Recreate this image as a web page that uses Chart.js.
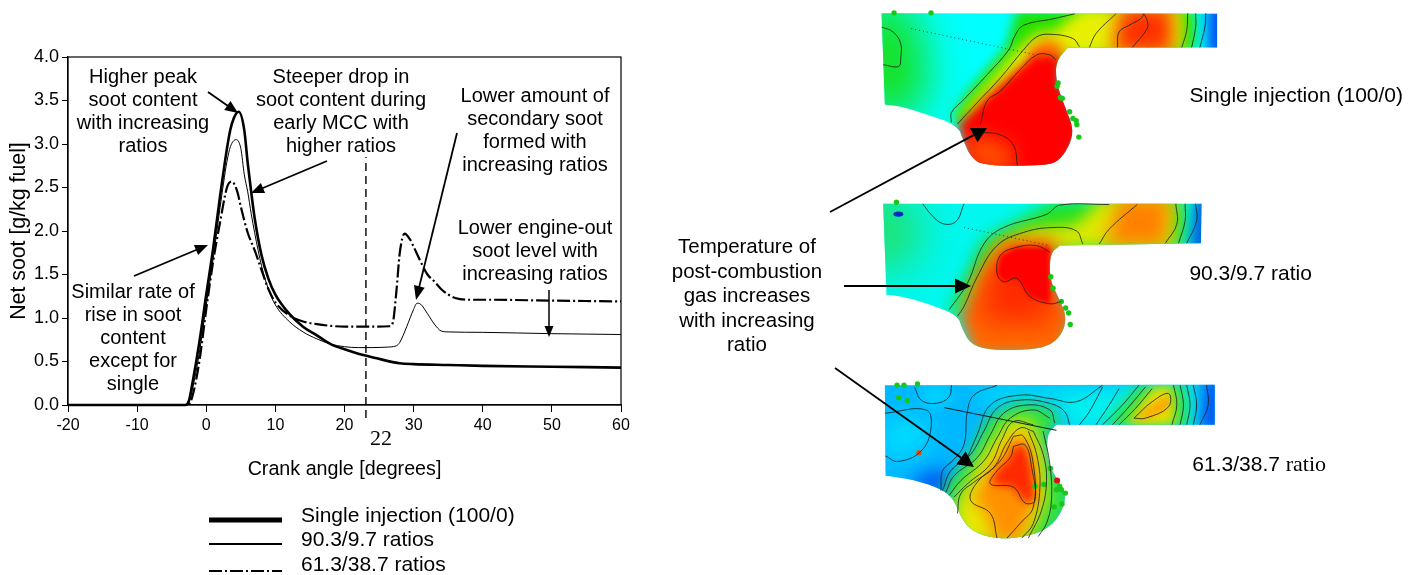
<!DOCTYPE html>
<html>
<head>
<meta charset="utf-8">
<title>Net soot and post-combustion gas temperature</title>
<script src="https://cdn.jsdelivr.net/npm/chart.js@4"></script>
<style>
    html, body { margin: 0; padding: 0; background: #fff; }
    #page { position: relative; width: 1424px; height: 575px; overflow: hidden; }
    canvas { position: absolute; top: 0; }
    #sootChart { left: 0; }
    #fieldChart { left: 640px; }
</style>
</head>
<body>
<div id="page">
    <canvas id="sootChart" width="640" height="575"></canvas>
    <canvas id="fieldChart" width="784" height="575"></canvas>
</div>
<script>
// soot curves
const crankSingle = [-20, -3, -2.5, -2, -1, 0, 1, 2, 3, 3.5, 4, 4.7, 5.5, 6, 6.5, 7, 8, 9, 10, 12, 14, 16, 18, 20, 22, 24, 26, 28, 30, 35, 40, 50, 60];
const sootSingle = [0, 0, 0.05, 0.25, 0.72, 1.27, 1.8, 2.4, 2.95, 3.17, 3.3, 3.37, 3.16, 2.78, 2.45, 2.15, 1.72, 1.45, 1.27, 1.05, 0.9, 0.8, 0.7, 0.64, 0.59, 0.55, 0.51, 0.48, 0.47, 0.46, 0.45, 0.44, 0.43];
const crankMid = [-20, -3, -2.5, -2, -1, 0, 1, 2, 3, 3.5, 4.3, 5, 5.5, 6, 6.5, 7, 8, 9, 10, 12, 14, 16, 18, 20, 22, 24, 26, 27.5, 28, 29, 30, 30.5, 31, 32, 33, 34, 35, 40, 50, 60];
const sootMid = [0, 0, 0.03, 0.18, 0.6, 1.15, 1.68, 2.27, 2.8, 2.97, 3.05, 2.95, 2.65, 2.45, 2.2, 1.98, 1.6, 1.33, 1.15, 0.96, 0.84, 0.76, 0.7, 0.67, 0.66, 0.66, 0.665, 0.68, 0.72, 0.9, 1.1, 1.17, 1.16, 1.05, 0.93, 0.85, 0.84, 0.835, 0.82, 0.81];
const crankSplit = [-20, -3, -2.5, -2, -1, 0, 1, 2, 3, 3.7, 4.5, 5, 6, 7, 8, 9, 10, 12, 14, 16, 18, 20, 24, 26.5, 27, 27.5, 28, 28.7, 29.5, 30, 31, 32, 33, 34, 35, 36, 38, 40, 50, 60];
const sootSplit = [0, 0, 0.01, 0.1, 0.5, 1.1, 1.65, 2.1, 2.5, 2.57, 2.45, 2.28, 1.98, 1.78, 1.55, 1.33, 1.18, 1.03, 0.96, 0.93, 0.91, 0.9, 0.9, 0.905, 0.95, 1.3, 1.75, 1.97, 1.9, 1.82, 1.65, 1.5, 1.42, 1.33, 1.27, 1.23, 1.21, 1.21, 1.2, 1.19];
const markerCrank = [23.1, 23.1];
const markerSoot = [-0.15, 2.85];

const crankTicks = [-20, -10, 0, 10, 20, 30, 40, 50, 60];
const sootTicks = [0, 0.5, 1, 1.5, 2, 2.5, 3, 3.5, 4];

const legendLabels = ['Single injection (100/0)', '90.3/9.7 ratios', '61.3/38.7 ratios'];

const sansFont = '"Liberation Sans", Arial, sans-serif';
const splitDash = [13, 3, 2, 3];

function zipXY(xs, ys) {
    return xs.map((x, i) => ({ x: x, y: ys[i] }));
}

function drawArrow(ctx, x1, y1, x2, y2, width, headLength, headWidth) {
    const angle = Math.atan2(y2 - y1, x2 - x1);
    ctx.save();
    ctx.strokeStyle = '#000';
    ctx.fillStyle = '#000';
    ctx.lineWidth = width;
    ctx.beginPath();
    ctx.moveTo(x1, y1);
    ctx.lineTo(x2 - Math.cos(angle) * headLength * 0.8, y2 - Math.sin(angle) * headLength * 0.8);
    ctx.stroke();
    ctx.translate(x2, y2);
    ctx.rotate(angle);
    ctx.beginPath();
    ctx.moveTo(0, 0);
    ctx.lineTo(-headLength, headWidth / 2);
    ctx.lineTo(-headLength, -headWidth / 2);
    ctx.closePath();
    ctx.fill();
    ctx.restore();
}

function drawLines(ctx, lines, cx, firstY, step) {
    ctx.fillStyle = '#000';
    ctx.textAlign = 'center';
    ctx.textBaseline = 'middle';
    lines.forEach((line, i) => ctx.fillText(line, cx, firstY + i * step));
}

const sootNotes = {
    id: 'sootNotes',
    afterDatasetsDraw(chart) {
        const ctx = chart.ctx;
        const area = chart.chartArea;
        ctx.save();

        // plot frame
        ctx.strokeStyle = '#000';
        ctx.lineWidth = 1.2;
        ctx.strokeRect(area.left, area.top, area.right - area.left, area.bottom - area.top);

        ctx.font = '20px ' + sansFont;
        drawLines(ctx, ['Higher peak', 'soot content', 'with increasing', 'ratios'], 143, 77, 23);
        drawLines(ctx, ['Steeper drop in', 'soot content during', 'early MCC with', 'higher ratios'], 341, 77, 23);
        drawLines(ctx, ['Lower amount of', 'secondary soot', 'formed with', 'increasing ratios'], 535, 96, 23);
        drawLines(ctx, ['Lower engine-out', 'soot level with', 'increasing ratios'], 535, 228, 23);
        drawLines(ctx, ['Similar rate of', 'rise in soot', 'content', 'except for', 'single'], 133, 292, 23.2);

        drawArrow(ctx, 208, 92, 238, 113, 1.8, 13, 11);
        drawArrow(ctx, 327, 161, 251, 193, 1.8, 13, 11);
        drawArrow(ctx, 134, 276, 208, 245, 1.8, 13, 11);
        drawArrow(ctx, 457, 133, 416, 300, 1.8, 14, 11);
        drawArrow(ctx, 549, 290, 549, 337, 1.5, 11, 9);

        ctx.font = '22px "Liberation Serif", serif';
        ctx.fillStyle = '#000';
        ctx.textAlign = 'center';
        ctx.fillText('22', 381, 439);

        // legend sits under the axis, as three hand placed rows
        const rows = [
            { y: 520, labelY: 516, width: 5, dash: [] },
            { y: 544, labelY: 540, width: 2, dash: [] },
            { y: 571, labelY: 565, width: 2, dash: splitDash }
        ];
        rows.forEach((row, i) => {
            ctx.lineWidth = row.width;
            ctx.setLineDash(row.dash);
            ctx.beginPath();
            ctx.moveTo(209, row.y);
            ctx.lineTo(282, row.y);
            ctx.stroke();
            ctx.setLineDash([]);
            ctx.font = '21px ' + sansFont;
            ctx.textAlign = 'left';
            ctx.textBaseline = 'middle';
            ctx.fillText(legendLabels[i], 301, row.labelY);
        });
        ctx.restore();
    }
};

new Chart(document.getElementById('sootChart'), {
    type: 'line',
    data: {
        datasets: [
            { label: legendLabels[0], data: zipXY(crankSingle, sootSingle), borderColor: '#000', borderWidth: 2.6, pointRadius: 0, cubicInterpolationMode: 'monotone', clip: false },
            { label: legendLabels[1], data: zipXY(crankMid, sootMid), borderColor: '#000', borderWidth: 1, pointRadius: 0, cubicInterpolationMode: 'monotone', clip: false },
            { label: legendLabels[2], data: zipXY(crankSplit, sootSplit), borderColor: '#000', borderWidth: 2.2, borderDash: splitDash, pointRadius: 0, cubicInterpolationMode: 'monotone', clip: false },
            { label: 'marker', data: zipXY(markerCrank, markerSoot), borderColor: '#000', borderWidth: 1.4, borderDash: [8, 5], pointRadius: 0, clip: false }
        ]
    },
    options: {
        responsive: false,
        animation: false,
        layout: { padding: { left: 0, top: 57, right: 19, bottom: 0 } },
        plugins: { legend: { display: false }, tooltip: { enabled: false } },
        scales: {
            x: {
                type: 'linear',
                min: -20,
                max: 60,
                afterBuildTicks: scale => { scale.ticks = crankTicks.map(v => ({ value: v })); },
                afterFit: scale => { scale.height = 170; },
                grid: { drawOnChartArea: false, color: '#000', tickLength: 7 },
                border: { color: '#000', width: 1.2 },
                ticks: { color: '#000', font: { family: sansFont, size: 16 }, maxRotation: 0, padding: 4, callback: v => v },
                title: { display: true, text: 'Crank angle [degrees]', color: '#000', font: { family: sansFont, size: 19.7 }, padding: { top: 15, bottom: 94 } }
            },
            y: {
                min: 0,
                max: 4,
                afterBuildTicks: scale => { scale.ticks = sootTicks.map(v => ({ value: v })); },
                afterFit: scale => { scale.width = 68; },
                grid: { drawOnChartArea: false, color: '#000', tickLength: 6 },
                border: { color: '#000', width: 1.2 },
                ticks: { color: '#000', font: { family: sansFont, size: 18 }, padding: 3, callback: v => v.toFixed(1) },
                title: { display: true, text: 'Net soot [g/kg fuel]', color: '#000', font: { family: sansFont, size: 21.3 }, padding: { top: 6, bottom: 0 } }
            }
        }
    },
    plugins: [sootNotes]
});

// ---- right side: the three CFD temperature panels ----
// everything below is in crop coordinates of each panel (3x, offset from x=820 and panelTop)
const panelTops = [0, 190, 370];

const outlineOne = [[180, 28], [1197, 30], [1197, 132], [745, 132], [708, 175], [710, 240], [735, 310], [762, 380], [750, 430], [720, 475], [680, 492], [490, 492], [450, 465], [430, 420], [410, 368], [300, 330], [240, 312], [190, 306]];
const outlineTwo = [[185, 38], [1150, 38], [1148, 158], [720, 165], [690, 190], [690, 270], [720, 330], [740, 380], [730, 430], [690, 470], [620, 483], [510, 483], [450, 465], [425, 420], [410, 375], [300, 335], [230, 318], [195, 315]];
const outlineThree = [[190, 50], [1190, 48], [1190, 170], [710, 170], [680, 200], [685, 290], [715, 340], [740, 380], [725, 440], [680, 490], [600, 515], [510, 515], [450, 490], [420, 450], [400, 400], [370, 370], [290, 340], [192, 325]];

const heatOne = [
    ['#00ffff', 0, [[100, 0], [1300, 0], [1300, 600], [100, 600]]],
    ['#18e018', 22, [[100, 0], [270, 0], [320, 200], [290, 340], [100, 340]]],
    ['#20e000', 6, [[395, 345], [440, 270], [560, 130], [590, 20], [1130, 20], [1130, 140], [620, 200], [430, 370]]],
    ['#e8f000', 7, [[405, 365], [460, 290], [590, 140], [650, 85], [700, 85], [790, 10], [1095, 10], [1095, 145], [720, 160], [500, 330]]],
    ['#ff3000', 9, [[905, 10], [1060, 10], [1060, 150], [880, 150]]],
    ['#ff7000', 6, [[620, 140], [680, 105], [740, 130], [700, 175], [640, 170]]],
    ['#ff0000', 5, [[415, 370], [500, 280], [640, 155], [720, 155], [720, 240], [790, 380], [720, 520], [460, 520]]],
    ['#ff4a00', 9, [[430, 400], [500, 400], [570, 430], [585, 510], [460, 510]]],
    ['#0040f0', 7, [[1170, 0], [1230, 0], [1230, 160], [1170, 160]]]
];
const heatTwo = [
    ['#00f8f0', 0, [[100, 0], [1300, 0], [1300, 600], [100, 600]]],
    ['#20e068', 22, [[100, 0], [250, 0], [310, 130], [250, 240], [100, 240]]],
    ['#20e020', 8, [[385, 365], [430, 280], [490, 150], [700, 30], [1100, 30], [1100, 170], [700, 170], [480, 300], [410, 385]]],
    ['#e0e800', 8, [[415, 380], [470, 270], [530, 160], [620, 115], [770, 100], [850, 20], [1070, 20], [1065, 170], [780, 170], [600, 200]]],
    ['#ff8000', 9, [[900, 20], [1055, 20], [1040, 165], [860, 165]]],
    ['#ff6a00', 7, [[420, 385], [480, 260], [550, 160], [700, 150], [700, 280], [760, 380], [720, 500], [460, 500]]],
    ['#ff2a00', 14, [[500, 250], [560, 170], [700, 170], [690, 340], [710, 400], [480, 400]]],
    ['#ff0000', 2, [[540, 195], [590, 170], [690, 170], [690, 342], [630, 320], [590, 265], [550, 275], [530, 250]]],
    ['#0060e0', 6, [[1130, 20], [1180, 20], [1180, 180], [1115, 180]]]
];
const heatThree = [
    ['#00b8ff', 0, [[100, 0], [1300, 0], [1300, 600], [100, 600]]],
    ['#00e0ff', 12, [[190, 150], [310, 150], [320, 240], [190, 280]]],
    ['#00e0ff', 8, [[300, 60], [390, 60], [380, 105], [310, 105]]],
    ['#0050f0', 9, [[280, 330], [380, 300], [380, 390], [280, 370]]],
    ['#00f0f0', 10, [[450, 70], [1140, 40], [1130, 190], [730, 190], [720, 100], [500, 100]]],
    ['#30e040', 7, [[365, 370], [450, 260], [500, 150], [600, 100], [700, 120], [720, 170], [680, 200], [690, 300], [760, 380], [740, 450], [660, 540], [390, 540], [390, 400]]],
    ['#30e040', 7, [[850, 180], [960, 50], [1100, 50], [1110, 180]]],
    ['#e8e800', 8, [[400, 420], [490, 260], [560, 160], [630, 150], [670, 260], [680, 400], [620, 530], [420, 530]]],
    ['#f0e000', 6, [[920, 170], [1000, 60], [1060, 50], [1070, 170]]],
    ['#ff9000', 8, [[455, 400], [510, 300], [580, 200], [620, 200], [640, 290], [650, 400], [600, 525], [520, 525], [500, 440]]],
    ['#ff9000', 4, [[950, 150], [1050, 80], [1050, 115], [980, 150]]],
    ['#ff2800', 5, [[580, 235], [615, 232], [635, 300], [645, 400], [615, 408], [580, 360], [510, 350], [530, 310], [570, 270]]],
    ['#0050f0', 7, [[1160, 30], [1210, 30], [1210, 190], [1150, 190]]]
];

const contoursOne = [
    [[180, 70], [215, 85], [238, 120], [238, 165], [232, 190], [185, 185]],
    [[765, 30], [700, 45], [610, 65], [585, 95], [565, 140], [500, 215], [430, 290], [392, 330], [392, 360]],
    [[780, 130], [760, 105], [690, 92], [650, 100], [610, 140], [540, 225], [470, 300], [410, 365]],
    [[708, 170], [690, 155], [650, 155], [600, 200], [540, 265], [500, 295], [480, 365]],
    [[480, 390], [540, 398], [580, 430], [592, 492]],
    [[810, 132], [830, 90], [890, 30]],
    [[895, 132], [900, 85], [930, 65], [965, 45], [975, 30]],
    [[940, 132], [985, 75], [985, 50], [975, 30]],
    [[1090, 132], [1105, 80], [1108, 28]],
    [[1120, 132], [1132, 70], [1132, 28]],
    [[1145, 132], [1160, 70], [1163, 28]]
];
const contoursTwo = [
    [[305, 38], [330, 70], [365, 98], [405, 92], [430, 38]],
    [[870, 40], [720, 42], [680, 70], [550, 110], [490, 160], [440, 280], [385, 360]],
    [[790, 160], [770, 120], [700, 110], [610, 125], [530, 165], [470, 260], [430, 350], [410, 380]],
    [[690, 185], [650, 165], [590, 170], [540, 195], [530, 250], [550, 275], [590, 265], [630, 320], [690, 342], [725, 335]],
    [[840, 160], [870, 115], [955, 40]],
    [[1040, 158], [1075, 100], [1072, 38]],
    [[1080, 158], [1100, 90], [1100, 38]],
    [[1105, 158], [1135, 90], [1132, 38]]
];
const contoursThree = [
    [[280, 55], [300, 95], [345, 105], [385, 85], [392, 50]],
    [[190, 135], [315, 125], [330, 180], [300, 250], [230, 282], [192, 265]],
    [[530, 50], [460, 80], [440, 130], [430, 230], [400, 275], [365, 310], [360, 370]],
    [[850, 50], [770, 100], [690, 90], [600, 80], [510, 110], [470, 200], [440, 270]],
    [[750, 170], [735, 130], [690, 105], [600, 95], [530, 120], [490, 190], [450, 260], [390, 310], [365, 370]],
    [[705, 165], [690, 125], [620, 110], [550, 135], [510, 200], [470, 270], [400, 325], [375, 375]],
    [[690, 150], [640, 125], [570, 150], [530, 210], [490, 280], [420, 340], [385, 385]],
    [[640, 170], [580, 160], [545, 215], [510, 290], [440, 350], [400, 390]],
    [[640, 190], [600, 180], [560, 225], [520, 300], [460, 345], [420, 380], [410, 440]],
    [[625, 190], [650, 260], [660, 360], [640, 470], [605, 515]],
    [[640, 190], [670, 260], [680, 340], [665, 430], [625, 515]],
    [[670, 190], [690, 290], [695, 400], [680, 470], [655, 510]],
    [[580, 235], [615, 232], [635, 300], [645, 400], [615, 408], [580, 360], [510, 350], [530, 310], [570, 270], [580, 235]],
    [[580, 205], [610, 205], [640, 290], [640, 420], [600, 470], [560, 515]],
    [[580, 205], [540, 280], [470, 345], [450, 400], [510, 440], [530, 515]],
    [[780, 170], [810, 130], [850, 55]],
    [[830, 170], [870, 110], [900, 60]],
    [[850, 170], [910, 110], [960, 50]],
    [[880, 170], [930, 115], [980, 55]],
    [[900, 170], [950, 120], [1000, 60]],
    [[945, 150], [1000, 100], [1050, 75], [1050, 115], [980, 150], [945, 150]],
    [[1060, 170], [1075, 110], [1065, 50]],
    [[1085, 170], [1095, 110], [1085, 50]],
    [[1105, 170], [1115, 110], [1105, 50]],
    [[1125, 170], [1135, 110], [1125, 50]],
    [[1145, 170], [1170, 110], [1165, 50]]
];
const gridLinesDotted = [
    [0, [[270, 75], [650, 155]]],
    [1, [[430, 110], [690, 165]]],
    [2, [[370, 118], [710, 187]]]
];

const dropsOne = [[218, 27], [330, 27], [715, 240], [712, 250], [722, 285], [728, 287], [750, 328], [760, 348], [770, 355], [772, 367], [778, 405]];
const dropsTwo = [[225, 33], [693, 260], [700, 295], [725, 335], [738, 355], [747, 370], [752, 405]];
const dropsThree = [[227, 50], [248, 50], [289, 46], [232, 88], [258, 97], [692, 303], [645, 357], [672, 352], [720, 358], [710, 368], [725, 368], [737, 378], [727, 411], [703, 420]];
const hotDropsThree = [[712, 340], [293, 255]];

// corner cutting for the piston bowl part of an outline, the squish strip stays square
function roundBowl(outline) {
    let tail = outline.slice(3);
    for (let pass = 0; pass < 2; pass++) {
        const cut = [tail[0]];
        for (let i = 0; i < tail.length - 1; i++) {
            const a = tail[i];
            const b = tail[i + 1];
            cut.push([a[0] * 0.75 + b[0] * 0.25, a[1] * 0.75 + b[1] * 0.25]);
            cut.push([a[0] * 0.25 + b[0] * 0.75, a[1] * 0.25 + b[1] * 0.75]);
        }
        cut.push(tail[tail.length - 1]);
        tail = cut;
    }
    return outline.slice(0, 3).concat(tail);
}

const outlines = [outlineOne, outlineTwo, outlineThree].map(roundBowl);
const heatFields = [heatOne, heatTwo, heatThree];

function toPage(points, panel) {
    return points.map(p => ({ x: 820 + p[0] / 3, y: panelTops[panel] + p[1] / 3 }));
}

const panelDatasets = [];
[contoursOne, contoursTwo, contoursThree].forEach((lines, panel) => {
    lines.forEach(line => {
        panelDatasets.push({ data: toPage(line, panel), borderColor: '#1c1c1c', borderWidth: 0.8, tension: 0.4, pointRadius: 0, showLine: true });
    });
});
gridLinesDotted.forEach(item => {
    panelDatasets.push({ data: toPage(item[1], item[0]), borderColor: '#102020', borderWidth: item[0] === 2 ? 1 : 0.8, borderDash: item[0] === 2 ? [] : [1, 3], pointRadius: 0, showLine: true });
});
[dropsOne, dropsTwo, dropsThree].forEach((drops, panel) => {
    panelDatasets.push({ data: toPage(drops, panel), showLine: false, pointRadius: 2.7, pointBackgroundColor: '#18c818', pointBorderWidth: 0 });
});
panelDatasets.push({ data: toPage([hotDropsThree[0]], 2), showLine: false, pointRadius: 3, pointBackgroundColor: '#d81010', pointBorderWidth: 0 });
panelDatasets.push({ data: toPage([hotDropsThree[1]], 2), showLine: false, pointRadius: 2.7, pointBackgroundColor: '#e05010', pointBorderWidth: 0 });

function tracePolygon(ctx, chart, points, panel) {
    ctx.beginPath();
    toPage(points, panel).forEach((p, i) => {
        const px = chart.scales.x.getPixelForValue(p.x);
        const py = chart.scales.y.getPixelForValue(p.y);
        if (i === 0) ctx.moveTo(px, py); else ctx.lineTo(px, py);
    });
    ctx.closePath();
}

const panelHeat = {
    id: 'panelHeat',
    beforeDatasetsDraw(chart) {
        const ctx = chart.ctx;
        outlines.forEach((outline, panel) => {
            ctx.save();
            tracePolygon(ctx, chart, outline, panel);
            ctx.clip();
            heatFields[panel].forEach(field => {
                ctx.filter = field[1] > 0 ? 'blur(' + field[1] + 'px)' : 'none';
                ctx.fillStyle = field[0];
                tracePolygon(ctx, chart, field[2], panel);
                ctx.fill();
            });
            ctx.filter = 'none';
            ctx.restore();
        });
        // blue spot in the second panel
        ctx.fillStyle = '#0a28c8';
        ctx.beginPath();
        ctx.ellipse(chart.scales.x.getPixelForValue(897), chart.scales.y.getPixelForValue(213), 5, 2.6, 0, 0, Math.PI * 2);
        ctx.fill();
    },
    afterDatasetsDraw(chart) {
        const ctx = chart.ctx;
        const xs = chart.scales.x;
        const ys = chart.scales.y;
        const ox = xs.getPixelForValue(640);
        ctx.save();
        ctx.font = '20.5px ' + sansFont;
        drawLines(ctx, ['Temperature of', 'post-combustion', 'gas increases', 'with increasing', 'ratio'], xs.getPixelForValue(744), ys.getPixelForValue(247), 24.5);
        ctx.font = '21px ' + sansFont;
        ctx.textAlign = 'left';
        ctx.fillText('Single injection (100/0)', xs.getPixelForValue(1191), ys.getPixelForValue(94));
        ctx.fillText('90.3/9.7 ratio', xs.getPixelForValue(1191), ys.getPixelForValue(274));
        ctx.fillText('61.3/38.7', xs.getPixelForValue(1194), ys.getPixelForValue(468));
        const wide = ctx.measureText('61.3/38.7 ').width;
        ctx.font = '22px "Liberation Serif", serif';
        ctx.fillText('ratio', xs.getPixelForValue(1194) + wide, ys.getPixelForValue(468));

        drawArrow(ctx, 826 - 640 + ox, 212, 983 - 640 + ox, 128, 1.8, 15, 16);
        drawArrow(ctx, 840 - 640 + ox, 286, 967 - 640 + ox, 286, 1.8, 16, 15);
        drawArrow(ctx, 831 - 640 + ox, 368, 970 - 640 + ox, 467, 1.8, 16, 16);
        ctx.restore();
    }
};

new Chart(document.getElementById('fieldChart'), {
    type: 'scatter',
    data: { datasets: panelDatasets },
    options: {
        responsive: false,
        animation: false,
        layout: { padding: 0 },
        plugins: { legend: { display: false }, tooltip: { enabled: false } },
        scales: {
            x: { type: 'linear', min: 640, max: 1424, display: false },
            y: { type: 'linear', min: 0, max: 575, reverse: true, display: false }
        }
    },
    plugins: [panelHeat]
});
</script>
</body>
</html>
